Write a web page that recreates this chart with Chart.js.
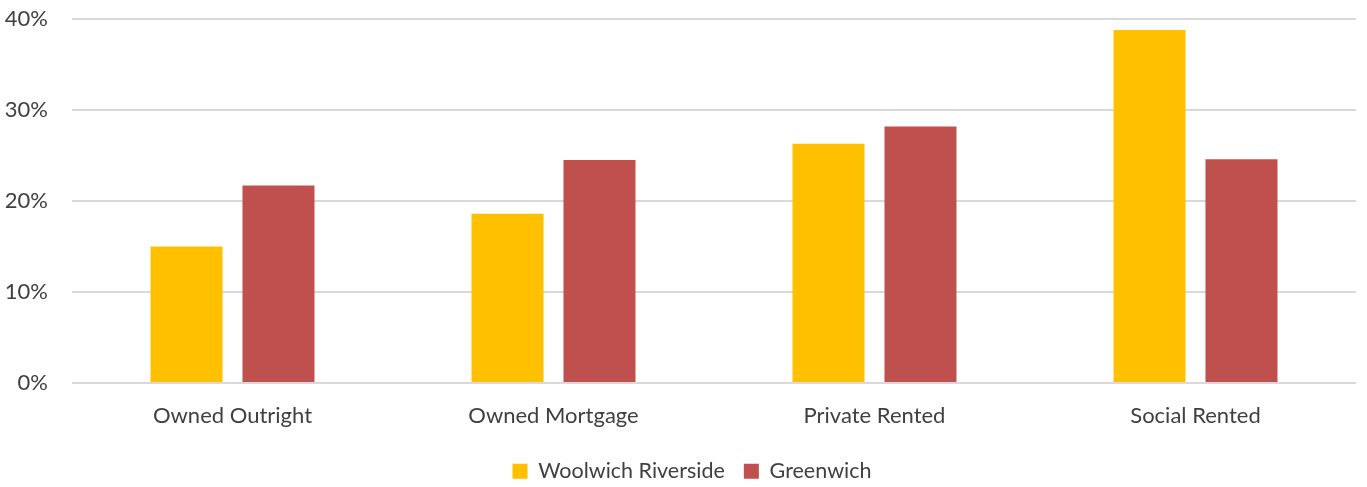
<!DOCTYPE html>
<html>
<head>
<meta charset="utf-8">
<script src="https://cdn.jsdelivr.net/npm/chart.js@4"></script>
<style>
html,body{margin:0;padding:0;background:#fff;}
#wrap{width:1367px;height:487px;position:relative;}
</style>
</head>
<body>
<div id="wrap"><canvas id="c" width="1367" height="487"></canvas></div>
<script>
const categories = ["Owned Outright", "Owned Mortgage", "Private Rented", "Social Rented"];
const woolwichRiverside = [15.0, 18.6, 26.3, 38.8];
const greenwich = [21.7, 24.5, 28.2, 24.6];
const yTicks = [0, 10, 20, 30, 40];

const FONT = "Lato, 'Open Sans', sans-serif";
const TXT = '#404040';

const legendShift = {
  id: 'legendShift',
  afterLayout(chart) {
    const l = chart.legend;
    if (l) { l.left += 14; l.right += 14; }
  }
};

new Chart(document.getElementById('c'), {
  type: 'bar',
  data: {
    labels: categories,
    datasets: [
      { label: 'Woolwich Riverside', data: woolwichRiverside, backgroundColor: '#FFC000', borderWidth: 0 },
      { label: 'Greenwich', data: greenwich, backgroundColor: '#C0504D', borderWidth: 0 }
    ]
  },
  plugins: [legendShift],
  options: {
    responsive: false,
    animation: false,
    devicePixelRatio: 1,
    layout: { padding: { left: 0, right: 11, top: 19, bottom: -5 } },
    datasets: { bar: { categoryPercentage: 0.573, barPercentage: 0.783 } },
    plugins: {
      tooltip: { enabled: false },
      legend: {
        position: 'bottom',
        labels: {
          font: { family: FONT, size: 21.5, weight: 400 },
          color: TXT,
          boxWidth: 15, boxHeight: 15,
          padding: 19
        }
      }
    },
    scales: {
      x: {
        grid: { display: false },
        border: { display: false },
        ticks: { font: { family: FONT, size: 22, weight: 400 }, color: TXT, padding: 12 }
      },
      y: {
        min: 0, max: 40,
        afterBuildTicks: (s) => { s.ticks = yTicks.map(v => ({ value: v })); },
        afterFit: (s) => { s.width = 72; },
        grid: { color: '#D9D9D9', lineWidth: 2, drawTicks: true, tickLength: 24, tickColor: 'rgba(0,0,0,0)' },
        border: { display: false },
        ticks: {
          font: { family: FONT, size: 22, weight: 400 }, color: TXT, padding: 0,
          callback: (v) => v + '%'
        }
      }
    }
  }
});
</script>
</body>
</html>
